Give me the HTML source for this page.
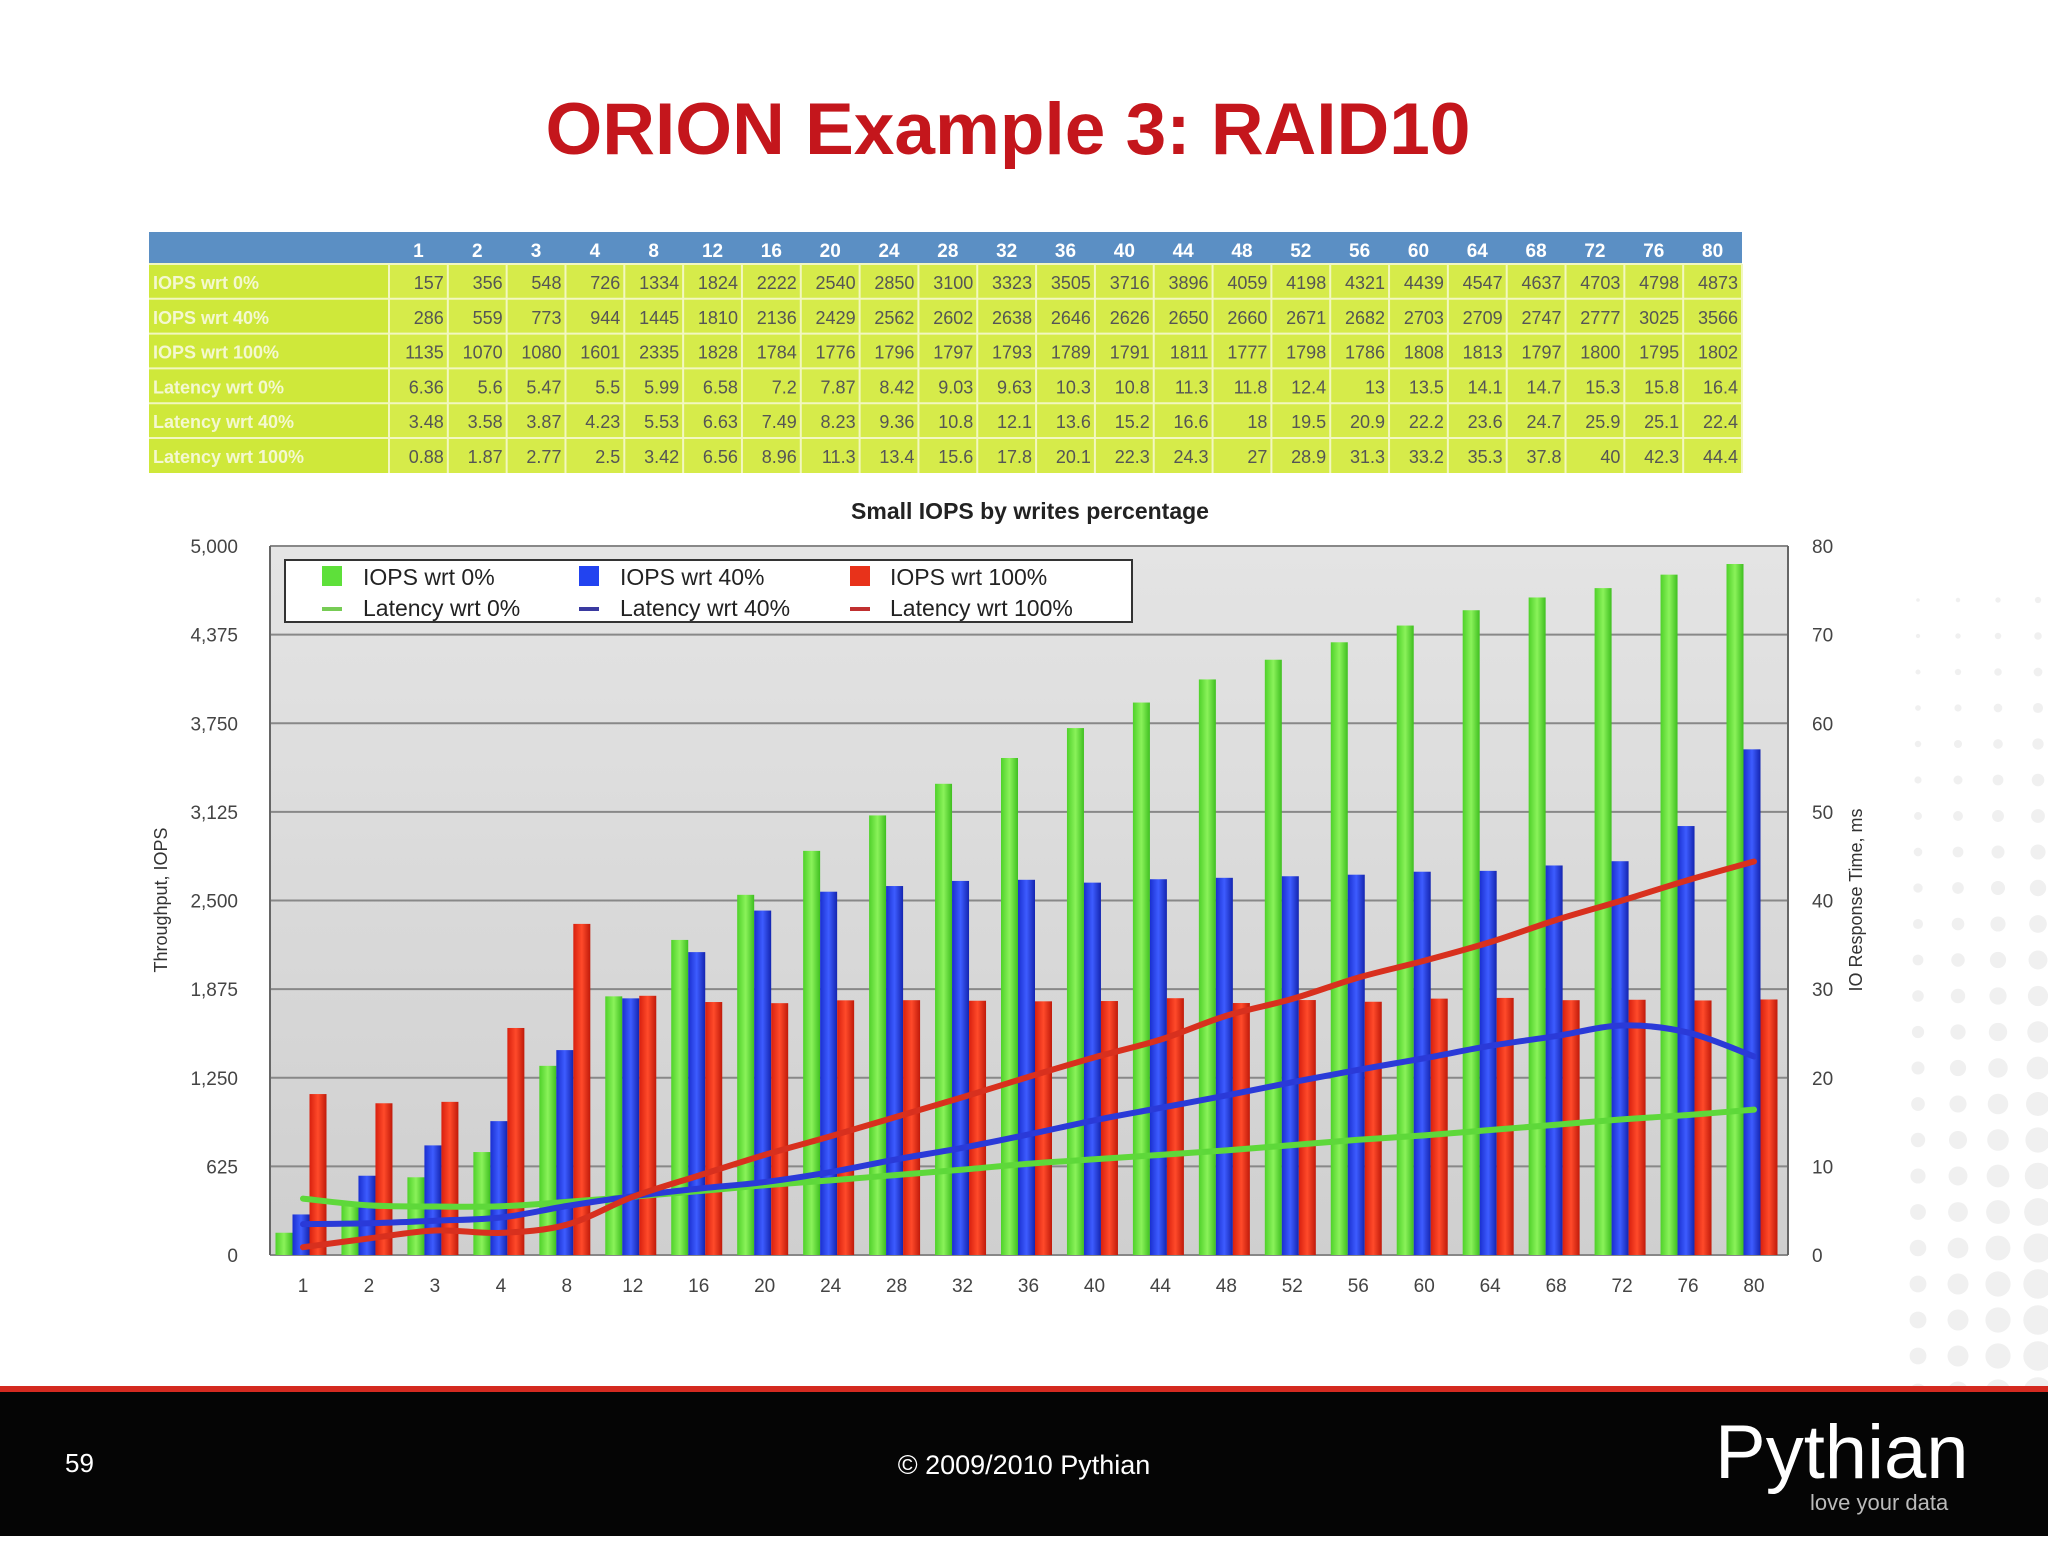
<!DOCTYPE html>
<html><head><meta charset="utf-8">
<style>
html,body{margin:0;padding:0;background:#fff;}
body{width:2048px;height:1536px;overflow:hidden;position:relative;font-family:"Liberation Sans",sans-serif;}
svg text{font-family:"Liberation Sans",sans-serif;}
</style></head>
<body>
<svg id="s" width="2048" height="1536" viewBox="0 0 2048 1536" xmlns="http://www.w3.org/2000/svg">
<defs>
<linearGradient id="plotbg" x1="0" y1="0" x2="0" y2="1"><stop offset="0" stop-color="#e4e4e4"/><stop offset="1" stop-color="#cfcfcf"/></linearGradient>
<linearGradient id="gG" x1="0" x2="1"><stop offset="0" stop-color="#4fd12a"/><stop offset="0.5" stop-color="#8af25a"/><stop offset="1" stop-color="#3fbf20"/></linearGradient>
<linearGradient id="gB" x1="0" x2="1"><stop offset="0" stop-color="#1a2fd0"/><stop offset="0.5" stop-color="#3d5cff"/><stop offset="1" stop-color="#1425b0"/></linearGradient>
<linearGradient id="gR" x1="0" x2="1"><stop offset="0" stop-color="#d8200e"/><stop offset="0.5" stop-color="#ff4a2a"/><stop offset="1" stop-color="#c01a0a"/></linearGradient>
</defs>
<text x="1008" y="154" text-anchor="middle" font-size="73" font-weight="bold" fill="#c4161c">ORION Example 3: RAID10</text>
<g id="table"></g>
<text x="1030" y="519" text-anchor="middle" font-size="23" font-weight="bold" fill="#222">Small IOPS by writes percentage</text>
<rect x="270" y="546" width="1518" height="709" fill="url(#plotbg)"/>
<g id="grid"></g>
<g id="bars"></g>
<g id="lines"></g>
<g id="axes"></g>
<text transform="translate(167,900) rotate(-90)" text-anchor="middle" font-size="18" fill="#333">Throughput, IOPS</text>
<text transform="translate(1862,900) rotate(-90)" text-anchor="middle" font-size="18" fill="#333">IO Response Time, ms</text>
<g>
<rect x="285" y="560" width="847" height="62" fill="#fff" stroke="#333" stroke-width="2"/>
<rect x="322" y="566" width="20" height="20" fill="#5ee03a"/>
<text x="363" y="585" font-size="23" fill="#222">IOPS wrt 0%</text>
<rect x="579" y="566" width="20" height="20" fill="#2243f0"/>
<text x="620" y="585" font-size="23" fill="#222">IOPS wrt 40%</text>
<rect x="850" y="566" width="20" height="20" fill="#e8321a"/>
<text x="890" y="585" font-size="23" fill="#222">IOPS wrt 100%</text>
<rect x="322" y="607" width="20" height="4" fill="#77cc55"/>
<text x="363" y="616" font-size="23" fill="#222">Latency wrt 0%</text>
<rect x="579" y="607" width="20" height="4" fill="#3a3aa0"/>
<text x="620" y="616" font-size="23" fill="#222">Latency wrt 40%</text>
<rect x="850" y="607" width="20" height="4" fill="#c03030"/>
<text x="890" y="616" font-size="23" fill="#222">Latency wrt 100%</text>
</g>
<rect x="0" y="1386" width="2048" height="6" fill="#d42a20"/>
<rect x="0" y="1392" width="2048" height="144" fill="#050505"/>
<text x="65" y="1472" font-size="26" fill="#fff">59</text>
<text x="1024" y="1474" text-anchor="middle" font-size="27" fill="#fff">© 2009/2010 Pythian</text>
<text x="1715" y="1478" font-size="76" fill="#fff">Pythian</text>
<text x="1810" y="1510" font-size="22" fill="#bbb">love your data</text>
</svg>
<script>
const categories=[1,2,3,4,8,12,16,20,24,28,32,36,40,44,48,52,56,60,64,68,72,76,80];
const iops0=[157,356,548,726,1334,1824,2222,2540,2850,3100,3323,3505,3716,3896,4059,4198,4321,4439,4547,4637,4703,4798,4873];
const iops40=[286,559,773,944,1445,1810,2136,2429,2562,2602,2638,2646,2626,2650,2660,2671,2682,2703,2709,2747,2777,3025,3566];
const iops100=[1135,1070,1080,1601,2335,1828,1784,1776,1796,1797,1793,1789,1791,1811,1777,1798,1786,1808,1813,1797,1800,1795,1802];
const lat0=[6.36,5.6,5.47,5.5,5.99,6.58,7.2,7.87,8.42,9.03,9.63,10.3,10.8,11.3,11.8,12.4,13,13.5,14.1,14.7,15.3,15.8,16.4];
const lat40=[3.48,3.58,3.87,4.23,5.53,6.63,7.49,8.23,9.36,10.8,12.1,13.6,15.2,16.6,18,19.5,20.9,22.2,23.6,24.7,25.9,25.1,22.4];
const lat100=[0.88,1.87,2.77,2.5,3.42,6.56,8.96,11.3,13.4,15.6,17.8,20.1,22.3,24.3,27,28.9,31.3,33.2,35.3,37.8,40,42.3,44.4];
const leftTicks=["0","625","1,250","1,875","2,500","3,125","3,750","4,375","5,000"];
const rightTicks=["0","10","20","30","40","50","60","70","80"];
const rowLabels=["IOPS wrt 0%","IOPS wrt 40%","IOPS wrt 100%","Latency wrt 0%","Latency wrt 40%","Latency wrt 100%"];
const rows=[iops0,iops40,iops100,lat0,lat40,lat100];

const NS="http://www.w3.org/2000/svg";
function mk(tag,attrs,parent,txt){const e=document.createElementNS(NS,tag);for(const k in attrs)e.setAttribute(k,attrs[k]);if(txt!==undefined)e.textContent=txt;parent.appendChild(e);return e;}
const PL=270,PR=1788,PT=546,PB=1255;
const x0=303,dx=(1754-303)/22;
const xPos=i=>x0+i*dx;
const yL=v=>PB-(v/5000)*(PB-PT);
const yR=v=>PB-(v/80)*(PB-PT);

const T=document.getElementById('table');
const tx=149,tw=1593,labW=240;
let h=mk('rect',{x:tx,y:232,width:tw,height:32,fill:'#5b8fc4'},T);


mk('rect',{x:tx,y:264,width:tw,height:209,fill:'#d6eb4a'},T);
mk('rect',{x:tx,y:264,width:labW,height:209,fill:'#cfe83a'},T);
const colW2=(tw-labW)/categories.length;
categories.forEach((c,i)=>{
  const t=mk('text',{x:tx+labW+colW2*(i+0.5),y:257,'text-anchor':'middle','font-size':19,'font-weight':'bold',fill:'#fff'},T,String(c));
  
  
});
rows.forEach((r,ri)=>{
  const y=264+ri*34.8;
  mk('line',{x1:tx,x2:tx+tw,y1:y,y2:y,stroke:'#f2f7c0','stroke-width':2},T);
  const l=mk('text',{x:tx+4,y:y+25,'font-size':18,'font-weight':'bold',fill:'#f4f8d0'},T,rowLabels[ri]);
  
  
  r.forEach((v,i)=>{
    const t=mk('text',{x:tx+labW+colW2*(i+1)-4,y:y+25,'text-anchor':'end','font-size':18,fill:'#555'},T,String(v));
    
    
  });
});
for(let i=0;i<=categories.length;i++){const x=tx+labW+colW2*i;mk('line',{x1:x,x2:x,y1:264,y2:473,stroke:'#f2f7c0','stroke-width':2},T);}

const G=document.getElementById('grid'),A=document.getElementById('axes');
leftTicks.forEach((t,i)=>{
  const y=PB-i*(PB-PT)/8;
  mk('line',{x1:PL,x2:PR,y1:y,y2:y,stroke:'#888','stroke-width':2},G);
  const a=mk('text',{x:238,y:y+7,'text-anchor':'end','font-size':19,fill:'#444'},A,t);
  
  
  const b=mk('text',{x:1812,y:y+7,'font-size':19,fill:'#444'},A,rightTicks[i]);
  
  
});
mk('line',{x1:PL,x2:PL,y1:PT,y2:PB,stroke:'#666','stroke-width':2},A);
mk('line',{x1:PR,x2:PR,y1:PT,y2:PB,stroke:'#666','stroke-width':2},A);
categories.forEach((c,i)=>{
  const t=mk('text',{x:xPos(i),y:1292,'text-anchor':'middle','font-size':19,fill:'#444'},A,String(c));
  
  
});

const B=document.getElementById('bars');
const bw=17;
[[iops0,'url(#gG)',-1.5,'bar-iops-0'],[iops40,'url(#gB)',-0.5,'bar-iops-40'],[iops100,'url(#gR)',0.5,'bar-iops-100']].forEach(([arr,fill,off,name])=>{
  arr.forEach((v,i)=>{
    const r=mk('rect',{x:xPos(i)+off*bw-2,y:yL(v),width:bw,height:PB-yL(v),fill:fill},B);
    
    
  });
});

const L=document.getElementById('lines');
function smooth(pts){let d=`M${pts[0][0]},${pts[0][1]}`;for(let i=0;i<pts.length-1;i++){const p0=pts[i-1]||pts[i],p1=pts[i],p2=pts[i+1],p3=pts[i+2]||p2;const c1=[p1[0]+(p2[0]-p0[0])/6,p1[1]+(p2[1]-p0[1])/6],c2=[p2[0]-(p3[0]-p1[0])/6,p2[1]-(p3[1]-p1[1])/6];d+=` C${c1[0]},${c1[1]} ${c2[0]},${c2[1]} ${p2[0]},${p2[1]}`;}return d;}
[[lat0,'#5ed83a','line-latency-0'],[lat40,'#2a3ad8','line-latency-40'],[lat100,'#d8301e','line-latency-100']].forEach(([arr,col,name])=>{
  const pts=arr.map((v,i)=>[xPos(i),yR(v)]);
  const p=mk('path',{d:smooth(pts),fill:'none',stroke:col,'stroke-width':6,'stroke-linecap':'round'},L);
  
  
});

const S=document.getElementById('s');
const dg=mk('g',{},S);


S.insertBefore(dg,S.children[1]);
for(let r=0;r<24;r++)for(let c=0;c<4;c++){const x=1918+c*40,y=600+r*36;const rad=Math.min(14,3+r*0.6)*(0.6+c*0.15);mk('circle',{cx:x,cy:y,r:rad,fill:'#f0f0f0'},dg);}
</script>
</body></html>
